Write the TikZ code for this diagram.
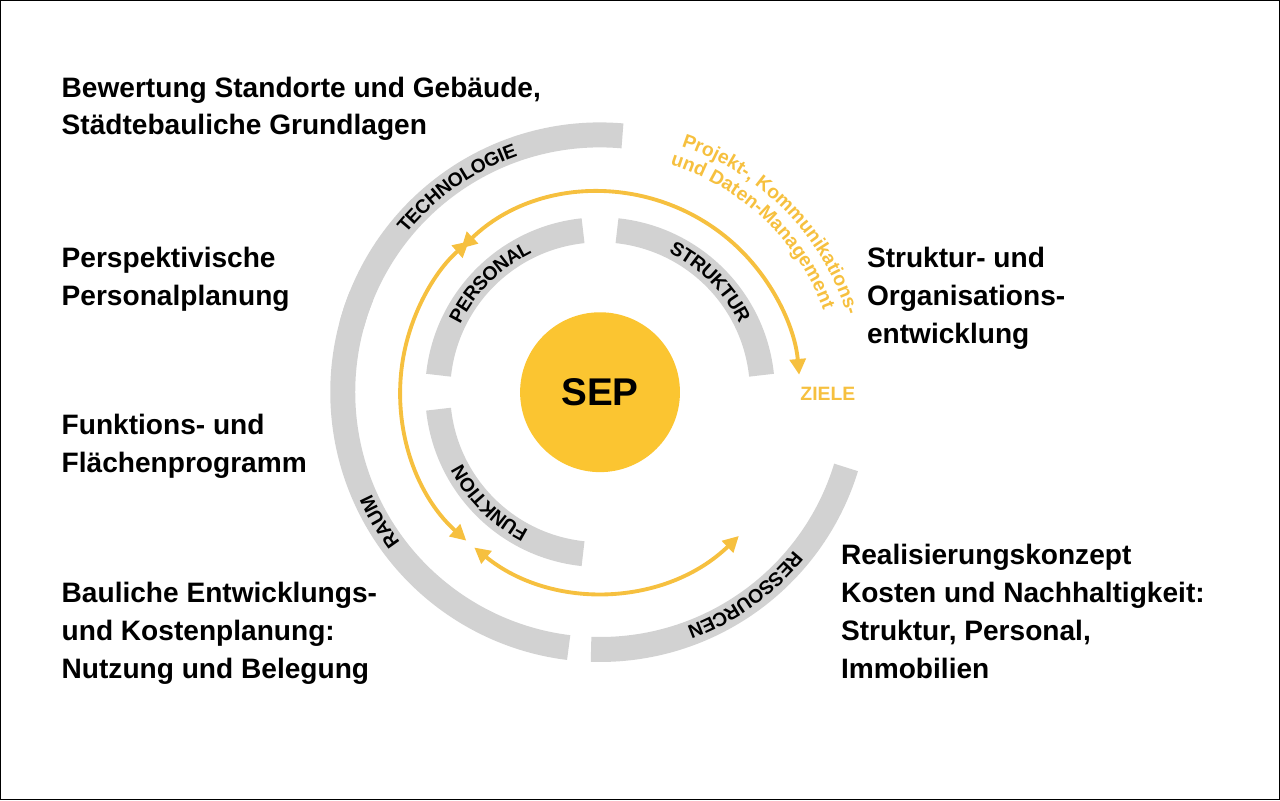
\documentclass[tikz,border=0pt]{standalone}
\usepackage{fontspec}
\setmainfont{Liberation Sans}
\usetikzlibrary{arrows.meta,decorations.text}
\definecolor{sepyellow}{HTML}{FBC531}
\definecolor{arrowyellow}{HTML}{F6C03F}
\definecolor{ringgray}{HTML}{D2D2D2}
\tikzset{
  ring/.style={ringgray, line width=0.5cm},
  flow/.style={arrowyellow, line width=2.2pt, {Triangle[length=9pt,width=9pt]}-{Triangle[length=9pt,width=9pt]}},
  label/.style={anchor=north west, align=left, font=\fontsize{16}{21.6}\selectfont\bfseries},
  ringtext/.style={decorate, decoration={text along path, text align=center, raise=-4pt, text={|\fontsize{11}{13}\selectfont\bfseries|#1}}}
}
\begin{document}
\begin{tikzpicture}
        \draw[black, line width=0.6pt] (0,0) rectangle (25.6,16);
        \coordinate (c) at (12,8.16);

        % outer ring
        \draw[ring] (c) ++(165:5.15) arc[start angle=165, end angle=85, radius=5.15];
        \draw[ring] (c) ++(263:5.15) arc[start angle=263, end angle=158, radius=5.15];
        \draw[ring] (c) ++(343:5.15) arc[start angle=343, end angle=268, radius=5.15];
        \path[ringtext=TECHNOLOGIE] (c) ++(165:5.15) arc[start angle=165, end angle=85, radius=5.15];
        \path[ringtext=RAUM] (c) ++(263:5.15) arc[start angle=263, end angle=158, radius=5.15];
        \path[ringtext=RESSOURCEN] (c) ++(343:5.15) arc[start angle=343, end angle=268, radius=5.15];

        % inner ring
        \draw[ring] (c) ++(174:3.25) arc[start angle=174, end angle=96, radius=3.25];
        \draw[ring] (c) ++(84:3.25) arc[start angle=84, end angle=6, radius=3.25];
        \draw[ring] (c) ++(264:3.25) arc[start angle=264, end angle=186, radius=3.25];
        \path[ringtext=PERSONAL] (c) ++(174:3.25) arc[start angle=174, end angle=96, radius=3.25];
        \path[ringtext=STRUKTUR] (c) ++(84:3.25) arc[start angle=84, end angle=6, radius=3.25];
        \path[ringtext=FUNKTION] (c) ++(264:3.25) arc[start angle=264, end angle=186, radius=3.25];

        % yellow flows
        \draw[flow] (c) ++(134:4) arc[start angle=134, end angle=5, radius=4];
        \draw[flow] (c) ++(228:4) arc[start angle=228, end angle=131, radius=4];
        \draw[flow] (c) ++(314:4) arc[start angle=314, end angle=231, radius=4];

        \path[decorate, decoration={text along path, text align=center, text color=arrowyellow, text={|\fontsize{11}{13}\selectfont\bfseries|Projekt-, Kommunikations-}}] (c) ++(77:5.18) arc[start angle=77, end angle=12, radius=5.18];
        \path[decorate, decoration={text along path, text align=center, text color=arrowyellow, text={|\fontsize{11}{13}\selectfont\bfseries|und Daten-Management}}] (c) ++(79:4.76) arc[start angle=79, end angle=14, radius=4.76];

        \node[circle, fill=sepyellow, minimum size=3.2cm, font=\fontsize{22}{26}\selectfont\bfseries] (sep) at (c) {SEP};
        \node[arrowyellow, font=\fontsize{11}{13}\selectfont\bfseries] (ziele) at (16.56,8.12) {ZIELE};

        % outer labels
        \node[label] (bewertung) at (1.1,14.6) {Bewertung Standorte und Gebäude,\\Städtebauliche Grundlagen};
        \node[label] (perspektive) at (1.1,11.18) {Perspektivische\\Personalplanung};
        \node[label] (funktion) at (1.1,7.84) {Funktions- und\\Flächenprogramm};
        \node[label] (bauliche) at (1.1,4.48) {Bauliche Entwicklungs-\\und Kostenplanung:\\Nutzung und Belegung};
        \node[label] (struktur) at (17.22,11.18) {Struktur- und\\Organisations-\\entwicklung};
        \node[label] (realisierung) at (16.7,5.24) {Realisierungskonzept\\Kosten und Nachhaltigkeit:\\Struktur, Personal,\\Immobilien};
\end{tikzpicture}
\end{document}
